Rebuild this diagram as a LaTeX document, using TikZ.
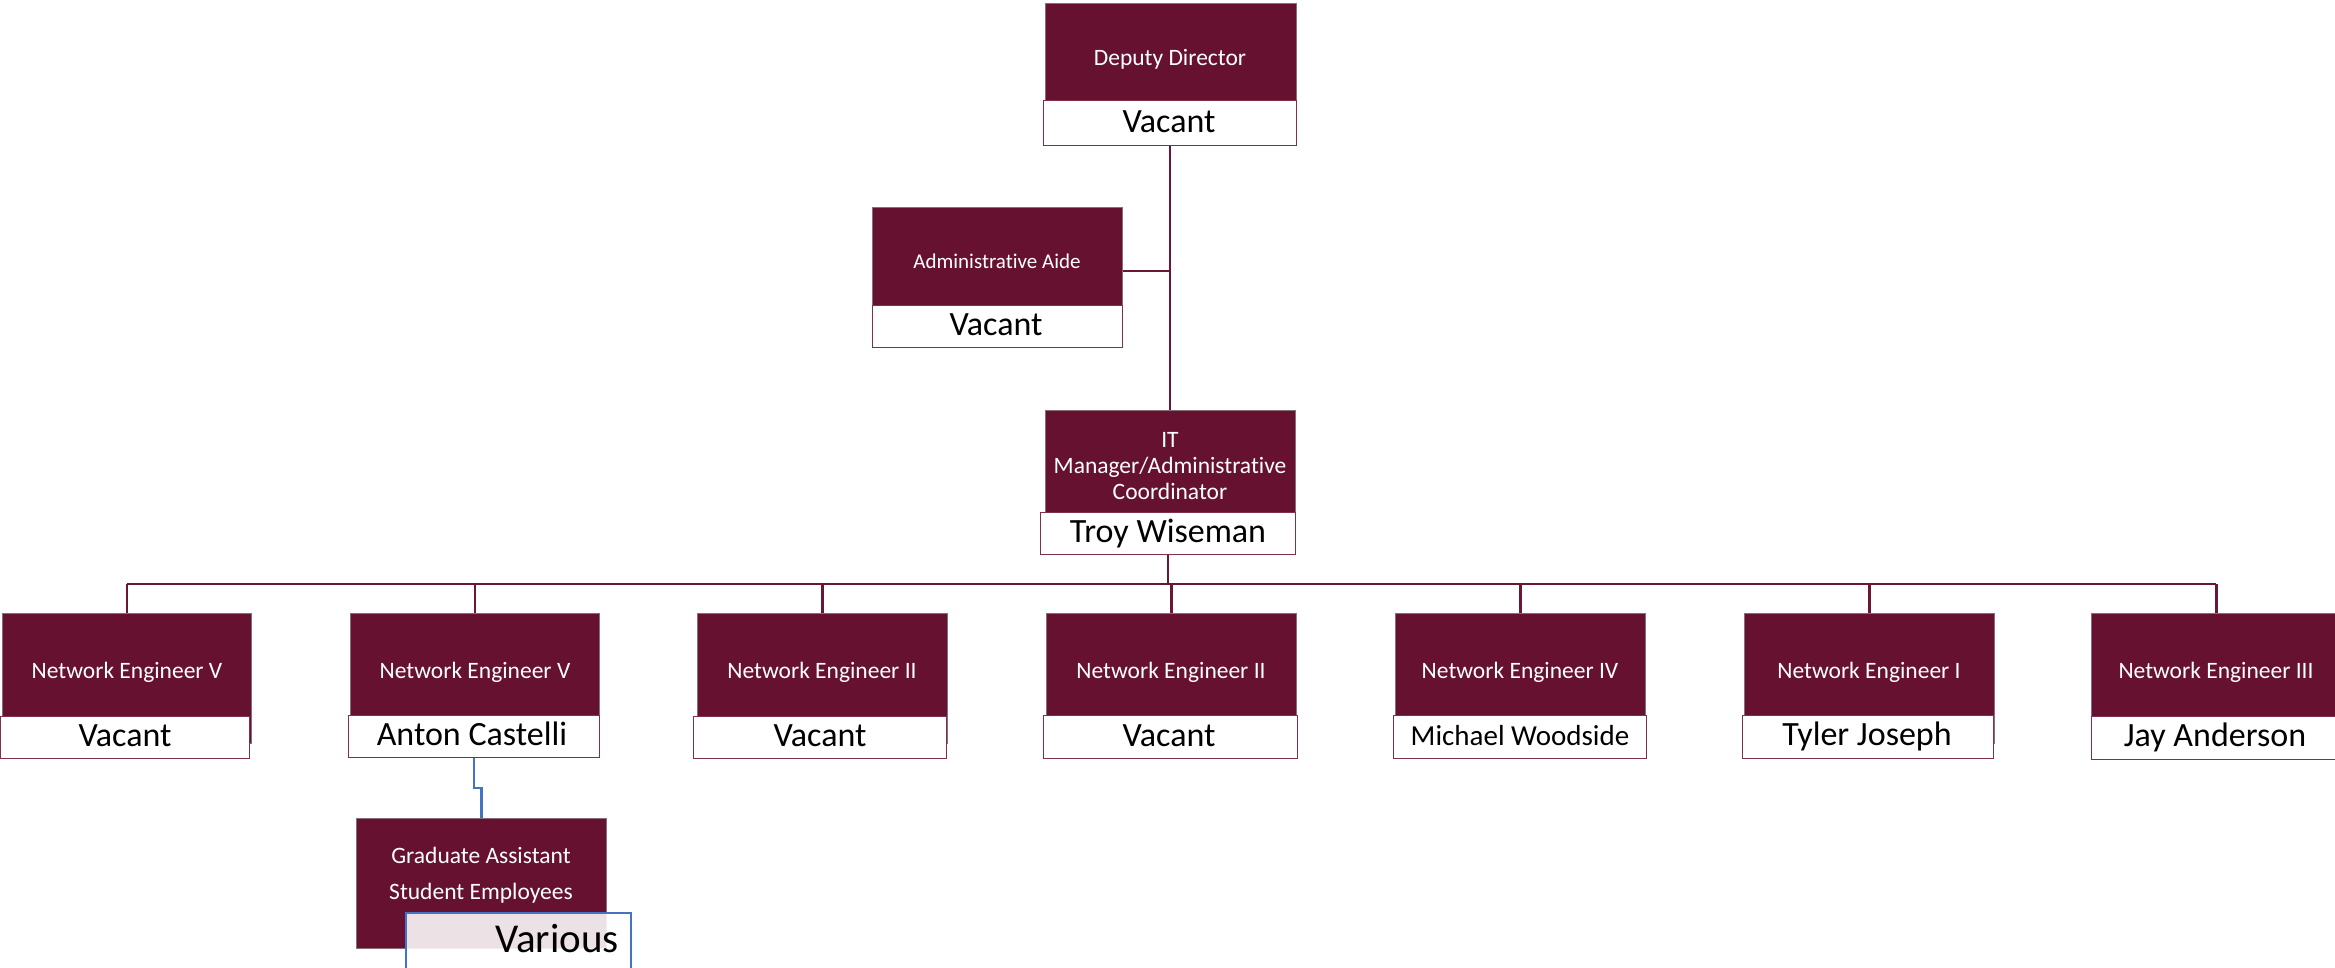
\documentclass[tikz,border=0pt]{standalone}
\usepackage{fontspec}
\setmainfont[Ligatures=NoCommon]{Carlito}
\definecolor{maroonfill}{RGB}{102,17,48}
\definecolor{darkedge}{RGB}{135,110,122}
\definecolor{linec}{RGB}{108,22,54}
\definecolor{wborder}{RGB}{128,48,78}
\definecolor{bluec}{RGB}{68,114,196}
\tikzset{
  darkbox/.style={rectangle, fill=maroonfill, draw=darkedge, line width=0.9pt, inner sep=0pt, anchor=north west},
  wbox/.style={rectangle, fill=white, draw=wborder, line width=1.3pt, inner sep=0pt, anchor=north west},
  titletext/.style={anchor=base, text=white, inner sep=0pt, font=\fontsize{23.5}{26}\selectfont},
  nametext/.style={anchor=base, text=black, inner sep=0pt, font=\fontsize{34}{40}\selectfont},
  conn/.style={draw=linec, line width=2.6pt},
  blueconn/.style={draw=bluec, line width=2.2pt},
}
\begin{document}
\begin{tikzpicture}[x=1pt,y=-1pt]
\useasboundingbox (0,0) rectangle (2335,968);

% Deputy Director
\node[darkbox, minimum width=251pt, minimum height=107pt] (dd) at (1045,3) {};
\node[wbox, minimum width=253pt, minimum height=45pt] (ddn) at (1043,100) {};
\node[titletext] (ddt) at (1170,66) {Deputy Director};
\node[nametext] (ddv) at (1169,133) {Vacant};

% Administrative Aide
\node[darkbox, minimum width=250pt, minimum height=108pt] (aa) at (872,207) {};
\node[wbox, minimum width=250pt, minimum height=42pt] (aan) at (872,305) {};
\node[titletext, font=\fontsize{21}{24}\selectfont] (aat) at (997,269) {Administrative Aide};
\node[nametext] (aav) at (996,336) {Vacant};

% IT Manager
\node[darkbox, minimum width=250pt, minimum height=110pt] (it) at (1045,410) {};
\node[wbox, minimum width=255pt, minimum height=42pt] (itn) at (1040,512) {};
\node[titletext, align=center, font=\fontsize{23.5}{26}\selectfont] (itt) at (1170,499) {IT\\Manager/Administrative\\Coordinator};
\node[nametext] (itv) at (1168,542) {Troy Wiseman};

% Row of network engineers
\node[darkbox, minimum width=249pt, minimum height=130pt] (ne1) at (2,613) {};
\node[wbox, minimum width=249pt, minimum height=42pt] (ne1n) at (0,716) {};
\node[titletext] (ne1t) at (127,678) {Network Engineer V};
\node[nametext] (ne1v) at (125,746) {Vacant};

\node[darkbox, minimum width=249pt, minimum height=130pt] (ne2) at (350,613) {};
\node[wbox, minimum width=251pt, minimum height=42pt] (ne2n) at (348,715) {};
\node[titletext] (ne2t) at (475,678) {Network Engineer V};
\node[nametext] (ne2v) at (472,745) {Anton Castelli};

\node[darkbox, minimum width=250pt, minimum height=130pt] (ne3) at (697,613) {};
\node[wbox, minimum width=253pt, minimum height=42pt] (ne3n) at (693,716) {};
\node[titletext] (ne3t) at (822,678) {Network Engineer II};
\node[nametext] (ne3v) at (820,746) {Vacant};

\node[darkbox, minimum width=250pt, minimum height=130pt] (ne4) at (1046,613) {};
\node[wbox, minimum width=254pt, minimum height=43pt] (ne4n) at (1043,715) {};
\node[titletext] (ne4t) at (1171,678) {Network Engineer II};
\node[nametext] (ne4v) at (1169,746) {Vacant};

\node[darkbox, minimum width=250pt, minimum height=130pt] (ne5) at (1395,613) {};
\node[wbox, minimum width=253pt, minimum height=43pt] (ne5n) at (1393,715) {};
\node[titletext] (ne5t) at (1520,678) {Network Engineer IV};
\node[nametext, font=\fontsize{29}{34}\selectfont] (ne5v) at (1520,745) {Michael Woodside};

\node[darkbox, minimum width=250pt, minimum height=130pt] (ne6) at (1744,613) {};
\node[wbox, minimum width=251pt, minimum height=43pt] (ne6n) at (1742,715) {};
\node[titletext] (ne6t) at (1869,678) {Network Engineer I};
\node[nametext] (ne6v) at (1867,745) {Tyler Joseph};

\node[darkbox, minimum width=250pt, minimum height=130pt] (ne7) at (2091,613) {};
\node[wbox, minimum width=250pt, minimum height=43pt] (ne7n) at (2091,716) {};
\node[titletext] (ne7t) at (2216,678) {Network Engineer III};
\node[nametext] (ne7v) at (2215,746) {Jay Anderson};

% Graduate assistant box
\node[darkbox, minimum width=250pt, minimum height=130pt] (ga) at (356,818) {};
\node[titletext, align=center, font=\fontsize{23.5}{36}\selectfont] (gat) at (481,899) {Graduate Assistant\\Student Employees};
\fill[white, fill opacity=0.88] (406,913) rectangle (631,970);
\draw[bluec, line width=1.3pt] (406,970) -- (406,913) -- (631,913) -- (631,970);
\node[nametext, font=\fontsize{41}{46}\selectfont] (gav) at (557,952) {Various};

% connectors
\coordinate (aaj) at (1170,271);
\coordinate (bus) at (1170,584);
\draw[conn] (ddn.south) -- (ddn.south |- it.north);
\draw[conn] (aa.east |- aaj) -- (ddn.south |- aaj);
\draw[conn] (itn.south) -- (itn.south |- bus);
\draw[conn] (ne1.north |- bus) -- (ne7.north |- bus);
\foreach \n in {ne1,ne2,ne3,ne4,ne5,ne6,ne7}{
  \draw[conn] (\n.north |- bus) -- (\n.north);
}
\draw[blueconn] (ne2n.south) -- ++(0,30) -| (ga.north);
\end{tikzpicture}
\end{document}
